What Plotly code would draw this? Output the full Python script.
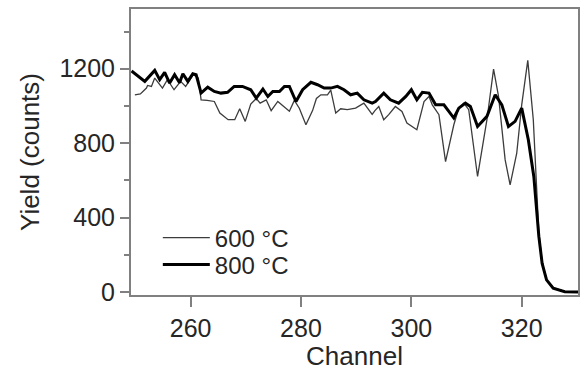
import plotly.graph_objects as go

# 600 °C spectrum (thin line)
ch_600 = [249.9, 250.9, 252.0, 252.2, 252.9, 253.5, 254.9, 255.8, 257.0, 258.2, 259.1, 260.5, 261.4,
          261.9, 263.0, 264.3, 265.3, 266.8, 268.0, 268.9, 269.9, 270.9, 271.9, 272.6, 273.7, 274.6,
          275.8, 277.0, 277.9, 278.8, 279.7, 280.9, 282.1, 282.8, 283.6, 284.8, 285.4, 286.3, 287.2,
          288.4, 289.9, 291.4, 292.9, 293.4, 294.1, 295.0, 295.9, 297.1, 298.3, 299.2, 301.0, 302.3,
          303.2, 303.8, 305.0, 306.2, 307.7, 308.6, 309.5, 310.4, 312.0, 313.7, 314.9, 315.8, 317.0,
          317.9, 319.1, 320.0, 321.1, 322.1, 322.7, 323.1, 323.7, 324.5, 325.7, 327.8, 330.2]
y_600 = [1060, 1065, 1096, 1110, 1105, 1150, 1096, 1141, 1087, 1132, 1105, 1168, 1150,
         1033, 1030, 1024, 962, 926, 926, 985, 917, 1010, 1040, 1015, 1033, 975,
         1024, 997, 972, 1030, 988, 899, 975, 1040, 1060, 1060, 1085, 962, 985,
         980, 988, 1015, 955, 975, 997, 926, 953, 997, 970, 908, 872, 1024,
         1051, 1006, 953, 701, 899, 988, 1015, 980, 621, 926, 1198, 1051, 710,
         576, 746, 1006, 1245, 926, 567, 320, 160, 65, 22, 3, 0]

# 800 °C spectrum (thick line)
ch_800 = [249.3, 251.7, 253.5, 254.4, 255.3, 256.2, 257.1, 258.0, 258.6, 259.5, 260.4, 261.0, 261.9,
          263.1, 264.3, 265.5, 266.7, 267.9, 269.4, 270.9, 271.9, 273.1, 274.0, 274.9, 276.1, 277.0,
          277.9, 279.1, 280.3, 281.8, 283.0, 284.2, 285.4, 286.6, 287.8, 289.0, 290.2, 291.4, 292.9,
          293.5, 295.0, 296.2, 297.7, 299.0, 300.0, 301.0, 302.0, 303.2, 304.4, 305.9, 307.7, 308.6,
          309.8, 310.7, 312.0, 313.7, 315.2, 316.4, 317.6, 318.8, 320.0, 321.2, 322.2, 322.7, 323.1,
          323.7, 324.5, 325.7, 327.8, 330.2]
y_800 = [1188, 1132, 1191, 1141, 1180, 1123, 1168, 1125, 1173, 1132, 1173, 1168, 1069,
         1101, 1078, 1069, 1073, 1105, 1105, 1087, 1042, 1091, 1051, 1078, 1078, 1105,
         1105, 1024, 1087, 1127, 1114, 1096, 1096, 1105, 1087, 1060, 1069, 1033, 1015,
         1024, 1069, 1033, 1015, 1051, 1087, 1033, 1073, 1069, 1006, 1006, 935, 988,
         1015, 997, 890, 944, 1060, 1006, 890, 917, 988, 818, 620, 450, 300,
         154, 65, 20, 2, 0]

x_ticks = [260, 280, 300, 320]
y_ticks = [0, 400, 800, 1200]

AX = "#808080"
TXT = "#262626"
FONT = "Liberation Sans, Arial, sans-serif"

fig = go.Figure()
fig.add_trace(go.Scatter(x=ch_600, y=y_600, mode="lines", name="600 °C",
                         line=dict(color="#3c3c3c", width=1.3), legend="legend"))
fig.add_trace(go.Scatter(x=ch_800, y=y_800, mode="lines", name="800 °C",
                         line=dict(color="#000000", width=3), legend="legend2"))

leg_common = dict(xanchor="left", yanchor="middle", bgcolor="rgba(0,0,0,0)",
                  font=dict(size=24, color=TXT), itemwidth=47)
fig.update_layout(
    width=582, height=371,
    margin=dict(l=131, r=2, t=9, b=76),
    paper_bgcolor="white", plot_bgcolor="white",
    font=dict(family=FONT, size=25, color=TXT),
    showlegend=True,
    legend=dict(x=0.06, y=0.199, **leg_common),
    legend2=dict(x=0.06, y=0.105, **leg_common),
)
fig.update_xaxes(
    range=[249.2, 330.2], tickvals=x_ticks, ticktext=[str(v) for v in x_ticks],
    showline=True, linecolor=AX, linewidth=2, mirror=True,
    ticks="outside", ticklen=10, tickwidth=2, tickcolor=AX,
    showgrid=False, zeroline=False,
    title=dict(text="Channel", font=dict(size=26), standoff=8),
    tickfont=dict(size=25),
)
fig.update_yaxes(
    range=[-16, 1521], tickvals=y_ticks, ticktext=[str(v) for v in y_ticks],
    showline=True, linecolor=AX, linewidth=2, mirror=True,
    ticks="outside", ticklen=9, tickwidth=2, tickcolor=AX,
    minor=dict(tickvals=[200, 600, 1000, 1400], ticks="outside", ticklen=5,
               tickwidth=2, tickcolor=AX, showgrid=False),
    showgrid=False, zeroline=False,
    title=dict(text="Yield (counts)", font=dict(size=26), standoff=12),
    tickfont=dict(size=25),
)

fig.write_html("out.html")
